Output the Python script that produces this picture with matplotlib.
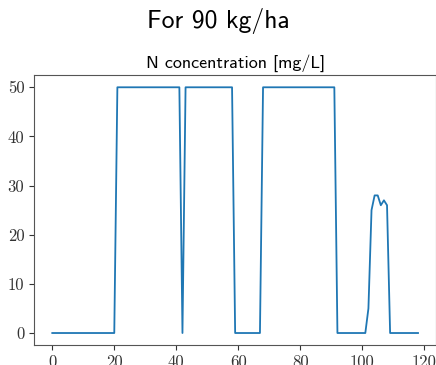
import numpy as np
import matplotlib
matplotlib.use('Agg')
import matplotlib.pyplot as plt

# N concentration per step
steps = np.arange(0, 119)
conc = np.zeros(len(steps))
conc[21:42] = 50
conc[43:59] = 50
conc[68:92] = 50
bump_x = [102, 103, 104, 105, 106, 107, 108]
bump_y = [5.0, 25.0, 28.0, 28.0, 26.0, 27.0, 26.0]
conc[bump_x] = bump_y

fig = plt.figure(figsize=(4.36, 3.65), dpi=100)
ax = fig.add_axes([34/436, 1 - 345.3/365, (436.3 - 34)/436, (345.3 - 75)/365])

ax.plot(steps, conc, color='tab:blue', linewidth=1.3)
ax.set_title('N concentration [mg/L]', fontsize=13, pad=5, family='cmss10')
fig.suptitle('For 90 kg/ha', fontsize=18.5, y=0.978, family='cmss10')

ax.tick_params(axis='both', which='major', labelsize=12, colors='#333333')
for lab in ax.get_xticklabels() + ax.get_yticklabels():
    lab.set_family('cmr10')
for s in ax.spines.values():
    s.set_color('#555555')

fig.savefig('out.png', dpi=100)
